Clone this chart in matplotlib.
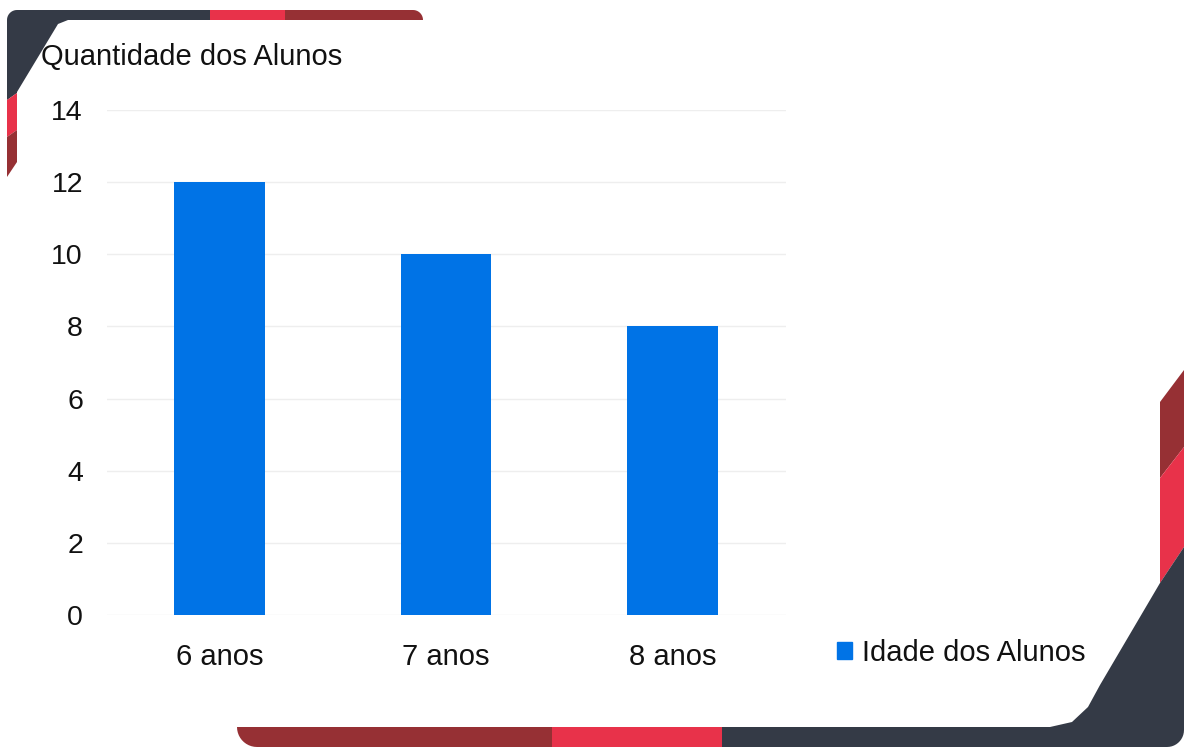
import numpy as np
import matplotlib
matplotlib.use('Agg')
import matplotlib.pyplot as plt
from matplotlib.patches import Polygon, Rectangle

categories = ['6 anos', '7 anos', '8 anos']
alunos = [12, 10, 8]
yticks = [0, 2, 4, 6, 8, 10, 12, 14]
series_name = 'Idade dos Alunos'
y_title = 'Quantidade dos Alunos'

SLATE = '#343a46'
RED = '#e8324a'
DARKRED = '#963034'
BLUE = '#0073e6'
TEXT = '#111111'

plt.rcParams['font.family'] = ['Liberation Sans', 'DejaVu Sans']

W, H = 1184, 747
fig = plt.figure(figsize=(W / 100, H / 100), dpi=100)
fig.patch.set_facecolor('white')

# decorative frame, in pixel coordinates (y down)
bg = fig.add_axes([0, 0, 1, 1], zorder=0)
bg.set_xlim(0, W)
bg.set_ylim(H, 0)
bg.axis('off')


def arc(cx, cy, r, a0, a1, n=12):
    t = np.linspace(a0, a1, n)
    return list(zip(cx + r * np.cos(t), cy + r * np.sin(t)))


def shape(pts, color):
    bg.add_patch(Polygon(pts, closed=True, facecolor=color, edgecolor='none'))


# top-left corner
shape([(7, 100)] + arc(17, 20, 10, np.pi, 1.5 * np.pi) +
      [(210, 10), (210, 20), (68, 20), (58, 24), (17, 92), (17, 93)], SLATE)
shape([(7, 100), (17, 93), (17, 130), (7, 137)], RED)
shape([(7, 137), (17, 130), (17, 162), (7, 177)], DARKRED)
shape([(210, 10), (285, 10), (285, 20), (210, 20)], RED)
shape([(285, 10)] + arc(413, 20, 10, -0.5 * np.pi, 0) + [(285, 20)], DARKRED)

# right side and bottom
shape([(1160, 402), (1184, 370), (1184, 447), (1160, 478)], DARKRED)
shape([(1160, 478), (1184, 447), (1184, 547), (1160, 583)], RED)
shape([(1160, 583), (1184, 547)] + arc(1167, 730, 17, 0, 0.5 * np.pi) +
      [(722, 747), (722, 727), (1050, 727), (1072, 722), (1088, 707), (1100, 685)], SLATE)
shape([(552, 727), (722, 727), (722, 747), (552, 747)], RED)
shape([(552, 727), (237, 727)] + arc(257, 727, 20, np.pi, 0.5 * np.pi) + [(552, 747)], DARKRED)

# chart
ax = fig.add_axes([106.5 / W, 1 - 615 / H, (785.5 - 106.5) / W, (615 - 110) / H], zorder=1)
ax.patch.set_alpha(0)
x = np.arange(len(categories))
ax.bar(x, alunos, width=0.4, color=BLUE, zorder=3)
ax.set_xlim(-0.5, len(categories) - 0.5)
ax.set_ylim(0, 14)
ax.set_yticks(yticks)
ax.set_xticks(x)
ax.set_xticklabels(categories)
ax.yaxis.grid(True, color='#eeeeee', linewidth=1)
ax.set_axisbelow(True)
for s in ax.spines.values():
    s.set_visible(False)
ax.tick_params(axis='y', length=0, labelsize=20.5, pad=17, labelcolor=TEXT)
ax.tick_params(axis='x', length=0, labelsize=21, pad=20, labelcolor=TEXT)
for lbl in ax.get_yticklabels():
    lbl.set_y(lbl.get_position()[1])

fig.text(41 / W, 1 - 65 / H, y_title, fontsize=21, va='baseline', ha='left', color=TEXT)

fig.legend(handles=[Rectangle((0, 0), 1, 1, color=BLUE)], labels=[series_name],
           loc='center left', bbox_to_anchor=(837 / W, 1 - 653 / H), frameon=False,
           handlelength=0.5, handleheight=0.5, handletextpad=0.35, fontsize=21,
           borderaxespad=0, borderpad=0, labelcolor=TEXT)

fig.savefig('out.png', dpi=100, facecolor='white')
